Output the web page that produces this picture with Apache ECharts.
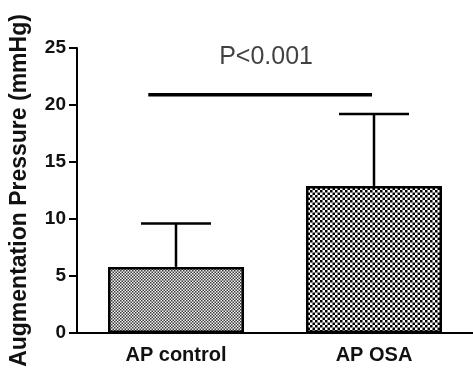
<!DOCTYPE html>
<html>
<head>
<meta charset="utf-8">
<script src="https://cdn.jsdelivr.net/npm/echarts@6/dist/echarts.min.js"></script>
<style>
html,body{margin:0;padding:0;background:#fff;}
#chart{width:473px;height:374px;}
</style>
</head>
<body>
<div id="chart"></div>
<script>
// ---- data ----
var categories = ['AP control', 'AP OSA'];
var means = [5.8, 12.9];
var sds = [3.8, 6.3];
var yTicks = { min: 0, max: 25, interval: 5 };
var sigLevel = 20.9;          // height of significance bar
var sigSpan = [0.36, 1.49];   // span of significance bar on band scale (0..2)
var sigText = 'P<0.001';

// ---- patterns ----
function finePattern() {
  var c = document.createElement('canvas');
  c.width = 6; c.height = 6;
  var g = c.getContext('2d');
  g.fillStyle = '#f4f4f4'; g.fillRect(0, 0, 6, 6);
  g.fillStyle = '#3a3a3a';
  var s = 1.5;
  for (var i = 0; i < 4; i++) {
    for (var j = 0; j < 4; j++) {
      if ((i + j) % 2 === 0) g.fillRect(i * s, j * s, s, s);
    }
  }
  return c;
}
function checkPattern() {
  var c = document.createElement('canvas');
  c.width = 10; c.height = 10;
  var g = c.getContext('2d');
  g.fillStyle = '#ffffff'; g.fillRect(0, 0, 10, 10);
  g.fillStyle = '#000000';
  var s = 2.5;
  for (var i = 0; i < 4; i++) {
    for (var j = 0; j < 4; j++) {
      if ((i + j) % 2 === 0) g.fillRect(i * s, j * s, s, s);
    }
  }
  return c;
}
var patterns = [finePattern(), checkPattern()];

var chart = echarts.init(document.getElementById('chart'), null, { renderer: 'canvas' });
var FONT = 'Liberation Sans, Arial, sans-serif';

var barData = means.map(function (m, i) {
  return { value: m, itemStyle: { color: { image: patterns[i], repeat: 'repeat' } } };
});
var errData = means.map(function (m, i) { return [i, m, m + sds[i]]; });
var sigData = [[sigSpan[0], sigLevel], [sigSpan[1], sigLevel]];
var sigMid = [(sigSpan[0] + sigSpan[1]) / 2 + 0.03, sigLevel];

chart.setOption({
  animation: false,
  backgroundColor: '#fff',
  grid: { left: 74, right: 0, top: 48, bottom: 41, containLabel: false },
  xAxis: [{
    type: 'category',
    data: categories,
    axisLine: { lineStyle: { color: '#000', width: 2 } },
    axisTick: { alignWithLabel: true, length: 6, lineStyle: { color: '#000', width: 2 } },
    axisLabel: { color: '#111', fontFamily: FONT, fontWeight: 'bold', fontSize: 20, margin: 12 }
  }, {
    type: 'value', min: 0, max: 2, show: false
  }],
  yAxis: {
    type: 'value',
    min: yTicks.min, max: yTicks.max, interval: yTicks.interval,
    name: 'Augmentation Pressure (mmHg)',
    nameLocation: 'middle',
    nameRotate: 90,
    nameGap: 46,
    nameTextStyle: { color: '#111', fontFamily: FONT, fontWeight: 'bold', fontSize: 23 },
    axisLine: { show: true, lineStyle: { color: '#000', width: 2 } },
    axisTick: { show: true, inside: false, length: 8, lineStyle: { color: '#000', width: 2 } },
    axisLabel: { color: '#111', fontFamily: FONT, fontWeight: 'bold', fontSize: 19, margin: 11 },
    splitLine: { show: false }
  },
  series: [{
    type: 'bar',
    data: barData,
    barWidth: 136,
    itemStyle: { borderColor: '#000', borderWidth: 2.5 },
    z: 2
  }, {
    type: 'custom',
    data: errData,
    z: 1,
    renderItem: function (params, api) {
      var p0 = api.coord([api.value(0), api.value(1)]);
      var p1 = api.coord([api.value(0), api.value(2)]);
      var hw = 35;
      var st = { stroke: '#000', lineWidth: 2.5 };
      return {
        type: 'group',
        children: [
          { type: 'line', shape: { x1: p0[0], y1: p0[1], x2: p1[0], y2: p1[1] }, style: st },
          { type: 'line', shape: { x1: p1[0] - hw, y1: p1[1], x2: p1[0] + hw, y2: p1[1] }, style: st }
        ]
      };
    }
  }, {
    type: 'line',
    xAxisIndex: 1,
    data: sigData,
    symbol: 'none',
    lineStyle: { color: '#000', width: 3.5 }
  }, {
    type: 'scatter',
    xAxisIndex: 1,
    data: [sigMid],
    symbolSize: 0,
    label: {
      show: true, position: 'top', distance: 25,
      formatter: sigText,
      color: '#111', fontFamily: FONT, fontSize: 25
    }
  }]
});
</script>
</body>
</html>
